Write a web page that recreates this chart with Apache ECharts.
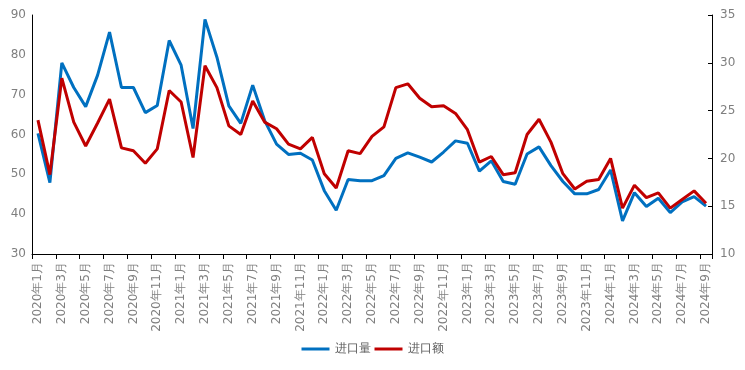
<!DOCTYPE html>
<html><head><meta charset="utf-8">
<script src="https://cdn.jsdelivr.net/npm/echarts@6/dist/echarts.min.js"></script>
<style>html,body{margin:0;padding:0;background:#fff}#c{width:745px;height:370px}</style>
</head><body><div id="c"></div>
<script>
const categories = [];
for (let y = 2020; y <= 2024; y++) for (let m = 1; m <= 12; m++) { if (y === 2024 && m > 9) break; categories.push(y + '年' + m + '月'); }
const volume = [60.3,47.9,78.0,71.8,67.0,74.9,85.7,71.8,71.8,65.5,67.3,83.6,77.4,61.5,88.9,79.4,67.2,62.8,72.4,63.5,
  57.6,55.0,55.3,53.6,45.9,41.0,48.7,48.4,48.4,49.7,54.0,55.4,54.3,53.1,55.6,58.4,57.8,50.8,53.4,48.2,
  47.5,55.1,56.9,52.2,48.2,45.1,45.1,46.2,51.1,38.3,45.4,41.9,44.0,40.4,43.1,44.4,42.0];
const amount = [24.0,18.3,28.4,23.8,21.3,23.7,26.2,21.1,20.8,19.5,21.0,27.1,25.9,20.1,29.7,27.4,23.4,22.5,26.0,23.8,
  23.1,21.5,21.0,22.2,18.4,16.9,20.8,20.5,22.3,23.3,27.4,27.8,26.3,25.4,25.5,24.7,23.0,19.6,20.2,18.3,
  18.5,22.5,24.1,21.7,18.4,16.8,17.6,17.8,20.0,14.8,17.2,15.9,16.4,14.8,15.7,16.6,15.3];
const leftTicks = {min: 30, max: 90, interval: 10};
const rightTicks = {min: 10, max: 35, interval: 5};
const seriesNames = ['进口量', '进口额'];

const font = 'DejaVu Sans';
const labelColor = '#7f7f7f';
const chart = echarts.init(document.getElementById('c'));
chart.setOption({
  animation: false,
  textStyle: {fontFamily: font},
  grid: {left: 32, right: 33, top: 15, bottom: 116},
  legend: {
    bottom: 10, left: 'center', itemWidth: 28, itemHeight: 3, itemGap: 4,
    icon: 'rect',
    textStyle: {fontFamily: font, fontSize: 12, color: '#595959'},
    data: seriesNames
  },
  xAxis: {
    type: 'category', data: categories, boundaryGap: true,
    axisLine: {lineStyle: {color: '#000', width: 1}},
    axisTick: {show: true, interval: 1, length: 5, lineStyle: {color: '#000'}},
    axisLabel: {interval: 1, rotate: 90, color: labelColor, fontSize: 12, fontFamily: font, margin: 8}
  },
  yAxis: [
    {type: 'value', min: leftTicks.min, max: leftTicks.max, interval: leftTicks.interval,
     splitLine: {show: false},
     axisLine: {show: true, lineStyle: {color: '#000'}},
     axisTick: {show: false},
     axisLabel: {color: labelColor, fontSize: 12, fontFamily: font, margin: 6}},
    {type: 'value', min: rightTicks.min, max: rightTicks.max, interval: rightTicks.interval,
     splitLine: {show: false},
     axisLine: {show: true, lineStyle: {color: '#000'}},
     axisTick: {show: true, inside: true, length: 4, lineStyle: {color: '#000'}},
     axisLabel: {color: labelColor, fontSize: 12, fontFamily: font, margin: 8}}
  ],
  series: [
    {name: seriesNames[0], type: 'line', yAxisIndex: 0, data: volume, symbol: 'none',
     lineStyle: {color: '#0070C0', width: 3}, itemStyle: {color: '#0070C0'}},
    {name: seriesNames[1], type: 'line', yAxisIndex: 1, data: amount, symbol: 'none',
     lineStyle: {color: '#C00000', width: 3}, itemStyle: {color: '#C00000'}}
  ]
});
</script></body></html>
